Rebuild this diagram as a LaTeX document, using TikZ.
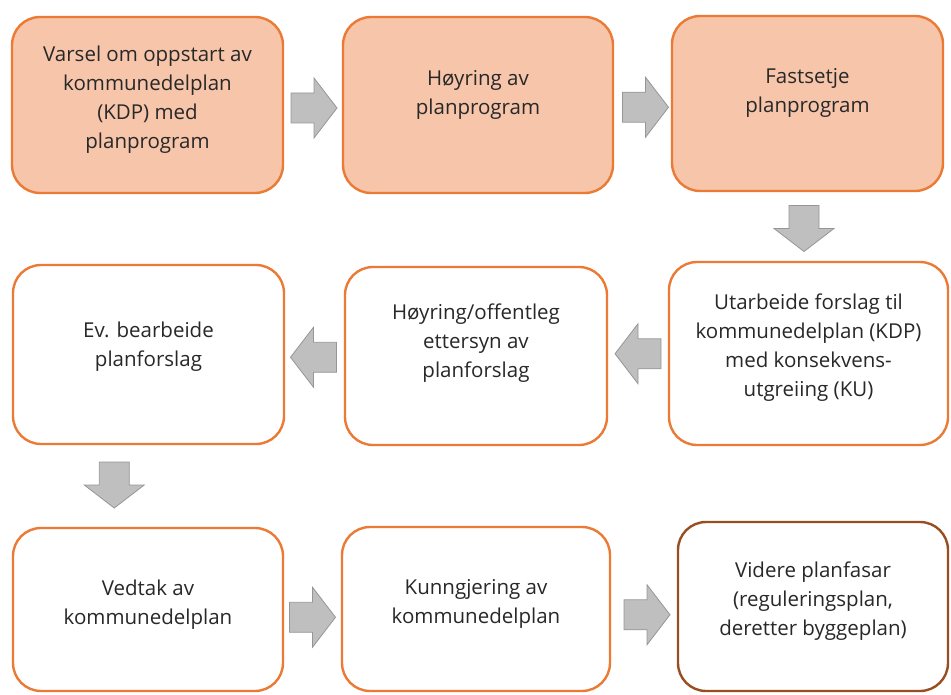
\documentclass[tikz,border=0pt]{standalone}
\usepackage{fontspec}
\setmainfont{Open Sans}
\usetikzlibrary{calc}
\definecolor{boxfill}{RGB}{246,197,170}
\definecolor{boxline}{RGB}{234,122,52}
\definecolor{boxlinedark}{RGB}{152,78,32}
\definecolor{arrfill}{RGB}{191,191,191}
\definecolor{arrline}{RGB}{150,150,150}
\definecolor{txt}{RGB}{40,40,40}
\tikzset{
  box/.style={draw=boxline, line width=2.4pt, rounded corners=28pt, inner sep=0pt},
  filledbox/.style={box, fill=boxfill},
  plainbox/.style={box, fill=white},
  lbl/.style={align=center, text=txt, font=\fontsize{20.5}{29}\selectfont, inner sep=0pt},
  blockarrow/.style={fill=arrfill, draw=arrline, line width=0.8pt, line join=miter},
}
\newcommand\blockarr[2]{%
  \draw[blockarrow, shift={(#1)}, rotate=#2]
    (-23,-15) -- (0,-15) -- (0,-30) -- (23,0) -- (0,30) -- (0,15) -- (-23,15) -- cycle;}
\begin{document}
\begin{tikzpicture}[x=1pt,y=-1pt]
\useasboundingbox (0,0) rectangle (951,695);
% boxes
\node[filledbox, minimum width=271pt, minimum height=176pt] (b1) at (147.5,105) {};
\node[filledbox, minimum width=270pt, minimum height=176pt] (b2) at (478,105) {};
\node[filledbox, minimum width=271pt, minimum height=175pt] (b3) at (807.5,103.5) {};
\node[plainbox, minimum width=271pt, minimum height=179pt] (b4) at (148.5,354.5) {};
\node[plainbox, minimum width=262pt, minimum height=178pt] (b5) at (476,356) {};
\node[plainbox, minimum width=279pt, minimum height=183pt] (b6) at (808.5,353.5) {};
\node[plainbox, minimum width=270pt, minimum height=163pt] (b7) at (148,609.5) {};
\node[plainbox, minimum width=268pt, minimum height=164pt] (b8) at (476,609) {};
\node[plainbox, draw=boxlinedark, minimum width=270pt, minimum height=169pt] (b9) at (813,606.5) {};
% labels
\node[lbl] (t1) at (147.5,100) {Varsel om oppstart av\\kommunedelplan\\(KDP) med\\planprogram};
\node[lbl] (t2) at (478,95) {Høyring av\\planprogram};
\node[lbl] (t3) at (807.5,93) {Fastsetje\\planprogram};
\node[lbl] (t4) at (148.5,347) {Ev. bearbeide\\planforslag};
\node[lbl] (t5) at (476,343) {Høyring/offentleg\\ettersyn av\\planforslag};
\node[lbl] (t6) at (808.5,348) {Utarbeide forslag til\\kommunedelplan (KDP)\\med konsekvens-\\utgreiing (KU)};
\node[lbl] (t7) at (148,605) {Vedtak av\\kommunedelplan};
\node[lbl] (t8) at (476,604) {Kunngjering av\\kommunedelplan};
\node[lbl] (t9) at (813,601) {Videre planfasar\\(reguleringsplan,\\deretter byggeplan)};
% block arrows between boxes
\coordinate (m12) at ($(b1.east)!0.5!(b2.west)+(1,3)$);
\coordinate (m23) at ($(b2.east)!0.5!(b3.west)+(3,3)$);
\coordinate (m36) at ($(b3.south)!0.5!(b6.north)+(-4,2)$);
\coordinate (m65) at ($(b6.west)!0.5!(b5.east)+(0,-1)$);
\coordinate (m54) at ($(b5.west)!0.5!(b4.east)+(-1,2)$);
\coordinate (m47) at ($(b4.south)!0.5!(b7.north)+(-34,-1)$);
\coordinate (m78) at ($(b7.east)!0.5!(b8.west)+(0,8)$);
\coordinate (m89) at ($(b8.east)!0.5!(b9.west)+(3,7)$);
\blockarr{m12}{0}
\blockarr{m23}{0}
\blockarr{m36}{-90}
\blockarr{m65}{180}
\blockarr{m54}{180}
\blockarr{m47}{-90}
\blockarr{m78}{0}
\blockarr{m89}{0}
\end{tikzpicture}
\end{document}
